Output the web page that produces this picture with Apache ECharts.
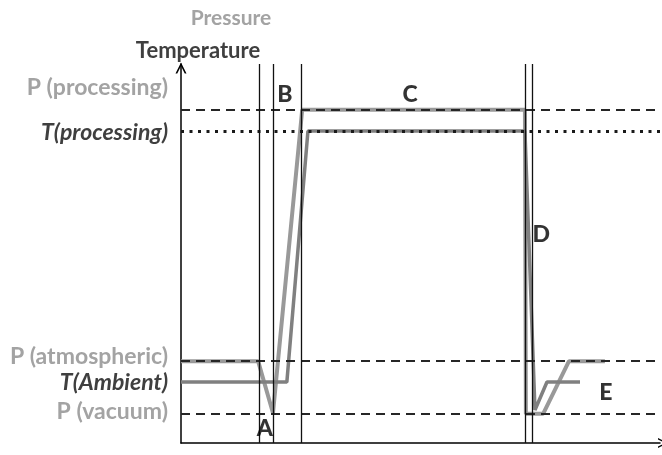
<!DOCTYPE html>
<html>
<head>
<meta charset="utf-8">
<script src="https://cdn.jsdelivr.net/npm/echarts@6/dist/echarts.min.js"></script>
<style>html,body{margin:0;padding:0;background:#fff}#c{width:662px;height:455px}</style>
</head>
<body>
<div id="c"></div>
<script>
// Process time axis (0-100) and level axis (0-100)
const pressureX = [0, 16.1, 19.2, 25.3, 71.8, 72.0, 75.6, 81.0, 88.5];
const pressureY = [21.6, 21.6, 7.9, 87.9, 87.9, 7.7, 7.7, 21.6, 21.6];
const tempX = [0, 22.1, 26.5, 71.8, 73.9, 76.4, 83.3];
const tempY = [16.1, 16.1, 82.3, 82.3, 8.7, 16.1, 16.1];

const levelNames = ['P (processing)', 'T(processing)', 'P (atmospheric)', 'T(Ambient)', 'P (vacuum)'];
const levelValues = [87.9, 82.3, 21.6, 16.1, 7.7];
const levelKinds = ['P', 'T', 'P', 'T', 'P'];
const levelLines = ['dashed', 'dotted', 'dashed', 'none', 'dashed'];

const stageX = [16.3, 19.2, 25.1, 71.8, 73.3];

const stageLetters = ['A', 'B', 'C', 'D', 'E'];
const letterX = [17.5, 21.7, 47.8, 75.2, 88.7];
const letterY = [3.7, 91.8, 91.8, 55.1, 13.2];

const titleTexts = ['Pressure', 'Temperature'];

const FONT = 'Lato';
const PCOL = '#a3a3a3';
const TCOL = '#3f3f3f';
const labelOffsets = [-23, 0, -6, 0, -3];

const arrowPath = 'path://M0,10 L5,0 L10,10 L8.4,10 L5,3.2 L1.6,10 Z';

const levelMark = levelNames.map((n, i) => ({
  yAxis: levelValues[i],
  lineStyle: levelLines[i] === 'none' ? { color: 'rgba(0,0,0,0)', width: 0 } :
    levelLines[i] === 'dotted' ? { color: '#1a1a1a', width: 3, type: [3, 5.5] } :
    { color: '#262626', width: 1.8, type: [9, 6] },
  label: {
    show: true, position: 'start', distance: 13, formatter: n,
    offset: [0, labelOffsets[i] + 1],
    color: levelKinds[i] === 'P' ? PCOL : TCOL,
    fontFamily: FONT, fontWeight: 'bold', fontSize: 23,
    fontStyle: levelKinds[i] === 'T' ? 'italic' : 'normal'
  }
}));

const chart = echarts.init(document.getElementById('c'));
chart.setOption({
  animation: false,
  backgroundColor: '#fff',
  grid: { left: 181, right: 2, top: 64, bottom: 12 },
  graphic: [
    { type: 'text', x: 231, y: 18, style: { text: titleTexts[0], fill: PCOL, font: 'bold 21px Lato', align: 'center', verticalAlign: 'middle' } },
    { type: 'text', x: 198, y: 51, style: { text: titleTexts[1], fill: TCOL, font: 'bold 22px Lato', align: 'center', verticalAlign: 'middle' } }
  ],
  xAxis: {
    type: 'value', min: 0, max: 100,
    axisLine: { show: true, lineStyle: { color: '#000', width: 1.5 }, symbol: ['none', arrowPath], symbolSize: [10, 11], symbolOffset: [0, 3] },
    axisTick: { show: false }, axisLabel: { show: false }, splitLine: { show: false }
  },
  yAxis: {
    type: 'value', min: 0, max: 100,
    axisLine: { show: true, lineStyle: { color: '#000', width: 1.5 }, symbol: ['none', arrowPath], symbolSize: [11, 12], symbolOffset: [0, -4] },
    axisTick: { show: false }, axisLabel: { show: false }, splitLine: { show: false }
  },
  series: [
    {
      type: 'line', data: [], z: 1,
      markLine: {
        silent: true, symbol: 'none', animation: false,
        data: levelMark.concat(stageX.map(x => ({
          xAxis: x, lineStyle: { color: '#111', width: 1.3, type: 'solid' }, label: { show: false }
        })))
      }
    },
    {
      name: 'Pressure', type: 'line', z: 3, symbol: 'none', clip: false,
      data: pressureX.map((x, i) => [x, pressureY[i]]),
      lineStyle: { color: '#999999', width: 4 }
    },
    {
      name: 'Temperature', type: 'line', z: 4, symbol: 'none', clip: false,
      data: tempX.map((x, i) => [x, tempY[i]]),
      lineStyle: { color: '#808080', width: 3.5 }
    },
    {
      type: 'scatter', z: 5, symbolSize: 0, silent: true,
      data: stageLetters.map((s, i) => [letterX[i], letterY[i], s]),
      label: {
        show: true, position: 'inside', formatter: p => p.data[2],
        color: '#000', fontFamily: FONT, fontWeight: 900, fontSize: 23
      }
    }
  ]
});
</script>
</body>
</html>
